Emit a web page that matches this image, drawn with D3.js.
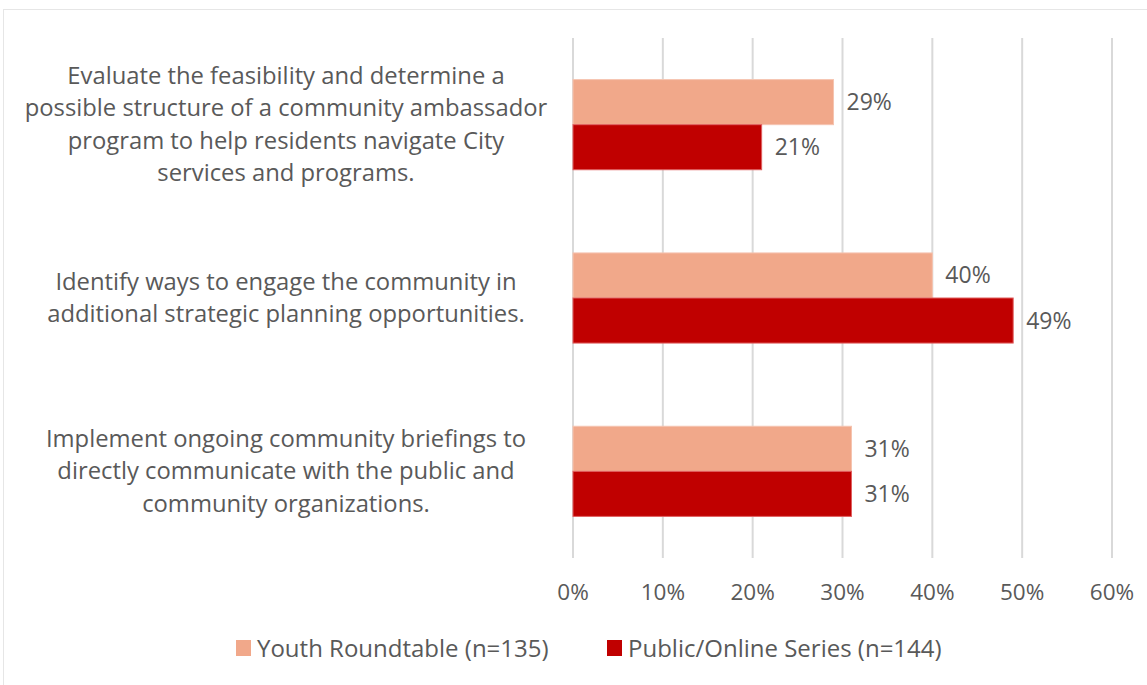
<!DOCTYPE html>
<html>
<head>
<meta charset="utf-8">
<script src="https://cdn.jsdelivr.net/npm/d3@7"></script>
<style>
  body { margin: 0; background: #fff; }
  text { font-family: "Open Sans", "Noto Sans", sans-serif; fill: #595959; }
</style>
</head>
<body>
<div id="chart"></div>
<script>
var categories = [
  ["Evaluate the feasibility and determine a", "possible structure of a community ambassador", "program to help residents navigate City", "services and programs."],
  ["Identify ways to engage the community in", "additional strategic planning opportunities."],
  ["Implement ongoing community briefings to", "directly communicate with the public and", "community organizations."]
];
var seriesNames = ["Youth Roundtable (n=135)", "Public/Online Series (n=144)"];
var youth = [29, 40, 31];
var publicOnline = [21, 49, 31];
var ticks = [0, 10, 20, 30, 40, 50, 60];

var width = 1147, height = 685;
var colors = ["#f1a88a", "#c00000"];

var svg = d3.select("#chart").append("svg")
  .attr("width", width)
  .attr("height", height);

// chart frame
svg.append("rect")
  .attr("x", 3.5).attr("y", 9.5)
  .attr("width", 1160).attr("height", 700)
  .attr("fill", "none")
  .attr("stroke", "#e6e6e6");

var x = d3.scaleLinear().domain([0, 60]).range([573, 1112]);
var y = d3.scaleBand().domain(d3.range(categories.length)).range([38, 558]).paddingInner(0.48).paddingOuter(0.24);
var inner = d3.scaleBand().domain([0, 1]).range([0, y.bandwidth()]);

// gridlines
svg.selectAll(".grid").data(ticks).enter().append("line")
  .attr("x1", function(d) { return x(d); })
  .attr("x2", function(d) { return x(d); })
  .attr("y1", 38).attr("y2", 558)
  .attr("stroke", "#d9d9d9")
  .attr("stroke-width", 2);

// tick labels
svg.selectAll(".tick").data(ticks).enter().append("text")
  .attr("x", function(d) { return x(d); })
  .attr("y", 600)
  .attr("text-anchor", "middle")
  .style("font-size", "22.5px")
  .text(function(d) { return d + "%"; });

var groups = svg.selectAll(".group").data(categories).enter().append("g")
  .attr("transform", function(d, i) { return "translate(0," + y(i) + ")"; });

groups.each(function(d, i) {
  var g = d3.select(this);
  var vals = [youth[i], publicOnline[i]];
  vals.forEach(function(v, s) {
    g.append("rect")
      .attr("x", x(0))
      .attr("y", inner(s))
      .attr("width", x(v) - x(0))
      .attr("height", inner.bandwidth())
      .attr("fill", colors[s])
      .attr("stroke", s === 0 ? "#f5c4b0" : "#e06060")
      .attr("stroke-width", 1);
    g.append("text")
      .attr("x", x(v) + 13)
      .attr("y", inner(s) + inner.bandwidth() / 2 + 8)
      .style("font-size", "23px")
      .text(v + "%");
  });

  // category label
  var n = d.length, lh = 32.5;
  var mid = y.bandwidth() / 2;
  var label = g.append("text")
    .attr("text-anchor", "middle")
    .style("font-size", "23.8px");
  d.forEach(function(line, k) {
    label.append("tspan")
      .attr("x", 286)
      .attr("y", mid + (k - (n - 1) / 2) * lh + 8)
      .text(line);
  });
});

// legend
var legend = svg.append("g");
var legendX = [236, 607];
seriesNames.forEach(function(name, s) {
  legend.append("rect")
    .attr("x", legendX[s]).attr("y", 640)
    .attr("width", 15).attr("height", 16)
    .attr("fill", colors[s]);
  legend.append("text")
    .attr("x", legendX[s] + 21).attr("y", 657)
    .style("font-size", "24px")
    .text(name);
});
</script>
</body>
</html>
